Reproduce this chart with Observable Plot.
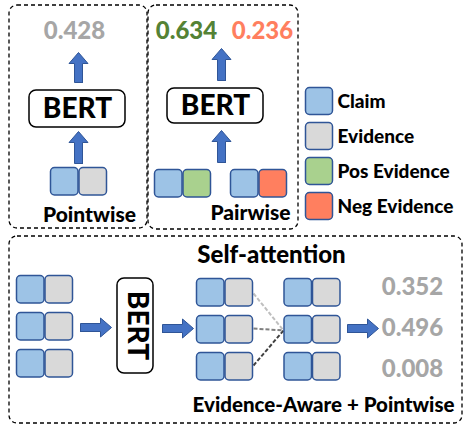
<!DOCTYPE html>
<html><head><meta charset="utf-8">
<script src="https://cdn.jsdelivr.net/npm/d3@7"></script>
<script src="https://cdn.jsdelivr.net/npm/@observablehq/plot@0.6"></script>
<style>html,body{margin:0;padding:0;background:#fff;}</style>
</head><body><div id="chart"></div>
<script>
// ---- data ----
const categories = ["Claim", "Evidence", "Pos Evidence", "Neg Evidence"];
const categoryColors = ["#9DC3E6", "#D9D9D9", "#A9D18E", "#FF7F5F"];
const pointwiseInput = ["Claim", "Evidence"];
const pointwiseScore = ["0.428"];
const pairwiseInputs = [["Claim", "Pos Evidence"], ["Claim", "Neg Evidence"]];
const pairwiseScores = ["0.634", "0.236"];
const pairwiseScoreColors = ["#548235", "#FF7F5F"];
const listInputs = [["Claim", "Evidence"], ["Claim", "Evidence"], ["Claim", "Evidence"]];
const listScores = ["0.352", "0.496", "0.008"];
const attentionShades = ["#BFBFBF", "#7F7F7F", "#404040"];
const panelTitles = ["Pointwise", "Pairwise", "Self-attention", "Evidence-Aware + Pointwise"];
const modelName = "BERT";

// ---- layout ----
const W = 464, H = 427, S = 28.5;
const color = d3.scaleOrdinal(categories, categoryColors);
const cells = [], frames = [], texts = [], legendTexts = [], arrowPts = [], links = [];
const addPair = (pair, x, y, key) => pair.forEach((c, i) => cells.push({x1: x + i * S, x2: x + (i + 1) * S, y1: y, y2: y + S, c, key}));
function arrow(id, x0, y0, x1, y1, shaft = 8, head = 19, headLen = 11) {
  const dx = x1 - x0, dy = y1 - y0, L = Math.hypot(dx, dy), ux = dx / L, uy = dy / L, nx = -uy, ny = ux;
  const P = (t, w) => ({x: x0 + ux * t + nx * w, y: y0 + uy * t + ny * w, id});
  const b = L - headLen;
  [P(0, shaft/2), P(b, shaft/2), P(b, head/2), P(L, 0), P(b, -head/2), P(b, -shaft/2), P(0, -shaft/2), P(0, shaft/2)].forEach(p => arrowPts.push(p));
}
const F = "Lato, 'Open Sans', sans-serif";

// panel 1: pointwise
frames.push({x1: 9, x2: 147, y1: 5, y2: 228, dash: "4,3"});
texts.push({x: 74, y: 31, t: pointwiseScore[0], fill: "#A6A6A6", size: 24});
arrow("a1", 78, 82, 78, 52);
frames.push({x1: 29, x2: 125, y1: 90, y2: 127, dash: null});
texts.push({x: 77, y: 109, t: modelName, fill: "#000", size: 28});
arrow("a2", 78, 163, 78, 131);
addPair(pointwiseInput, 50, 167, "p");
texts.push({x: 89, y: 215, t: panelTitles[0], fill: "#000", size: 21});

// panel 2: pairwise
frames.push({x1: 148, x2: 298, y1: 5, y2: 229, dash: "4,3"});
pairwiseScores.forEach((s, i) => texts.push({x: [186, 262][i], y: 31, t: s, fill: pairwiseScoreColors[i], size: 24}));
arrow("b1", 221, 80, 221, 48);
frames.push({x1: 167, x2: 263, y1: 88, y2: 123, dash: null});
texts.push({x: 215, y: 106, t: modelName, fill: "#000", size: 28});
arrow("b2", 221, 162, 221, 130);
pairwiseInputs.forEach((p, i) => addPair(p, [154, 230][i], 169, "q"));
texts.push({x: 250, y: 213, t: panelTitles[1], fill: "#000", size: 21});

// legend
categories.forEach((c, i) => {
  cells.push({x1: 305, x2: 333, y1: 87 + i * 35, y2: 115 + i * 35, c, key: "l"});
  legendTexts.push({x: 337, y: 101 + i * 35, t: c, fill: "#000", size: 19});
});

// panel 3: listwise
frames.push({x1: 9, x2: 462, y1: 236, y2: 423, dash: "4,3"});
texts.push({x: 271, y: 255, t: panelTitles[2], fill: "#000", size: 24});
listInputs.forEach((p, i) => addPair(p, 16, 275 + i * 37, "r"));
arrow("c1", 80, 327, 111, 327);
frames.push({x1: 117, x2: 153, y1: 278, y2: 373, dash: null});
texts.push({x: 136, y: 325, t: modelName, fill: "#000", size: 28, rotate: 90});
arrow("c2", 162, 328, 193, 328);
listInputs.forEach((p, i) => addPair(p, 196, 278 + i * 37, "s"));
listInputs.forEach((p, i) => addPair(p, 283.5, 278 + i * 37, "t"));
attentionShades.forEach((s, i) => links.push({x1: 253, y1: [293, 328, 365][i], x2: 283, y2: 330, s}));
arrow("c3", 347, 328, 378, 328);
listScores.forEach((s, i) => texts.push({x: 412, y: 287 + i * 41, t: s, fill: "#A6A6A6", size: 24}));
texts.push({x: 323, y: 405, t: panelTitles[3], fill: "#000", size: 20.5});

const textMark = (data, anchor) => Plot.text(data, {x: "x", y: "y", text: "t", fill: "fill", fontSize: "size",
  textAnchor: anchor, rotate: d => d.rotate || 0, fontWeight: 900, fontFamily: F, lineAnchor: "middle"});

const chart = Plot.plot({
  width: W, height: H, margin: 0,
  x: {domain: [0, W], range: [0, W], axis: null},
  y: {domain: [0, H], range: [0, H], axis: null},
  color: {type: "identity"},
  style: {background: "#fff", fontFamily: F},
  marks: [
    Plot.rect(frames.filter(f => f.dash), {x1: "x1", x2: "x2", y1: "y1", y2: "y2", rx: 8, fill: "none", stroke: "#000", strokeWidth: 1.3, strokeDasharray: "4,3"}),
    Plot.rect(frames.filter(f => !f.dash), {x1: "x1", x2: "x2", y1: "y1", y2: "y2", rx: 7, fill: "#fff", stroke: "#000", strokeWidth: 1.5}),
    Plot.link(links, {x1: "x1", y1: "y1", x2: "x2", y2: "y2", stroke: "s", strokeWidth: 2, strokeDasharray: "4,2"}),
    Plot.rect(cells, {x1: "x1", x2: "x2", y1: "y1", y2: "y2", rx: 4, fill: d => color(d.c), stroke: "#2F5597", strokeWidth: 1.5, inset: 0.5}),
    Plot.line(arrowPts, {x: "x", y: "y", z: "id", fill: "#4472C4", stroke: "#2F5597", strokeWidth: 1, curve: "linear"}),
    textMark(texts, "middle"),
    textMark(legendTexts, "start")
  ]
});
document.getElementById("chart").appendChild(chart);
</script></body></html>
